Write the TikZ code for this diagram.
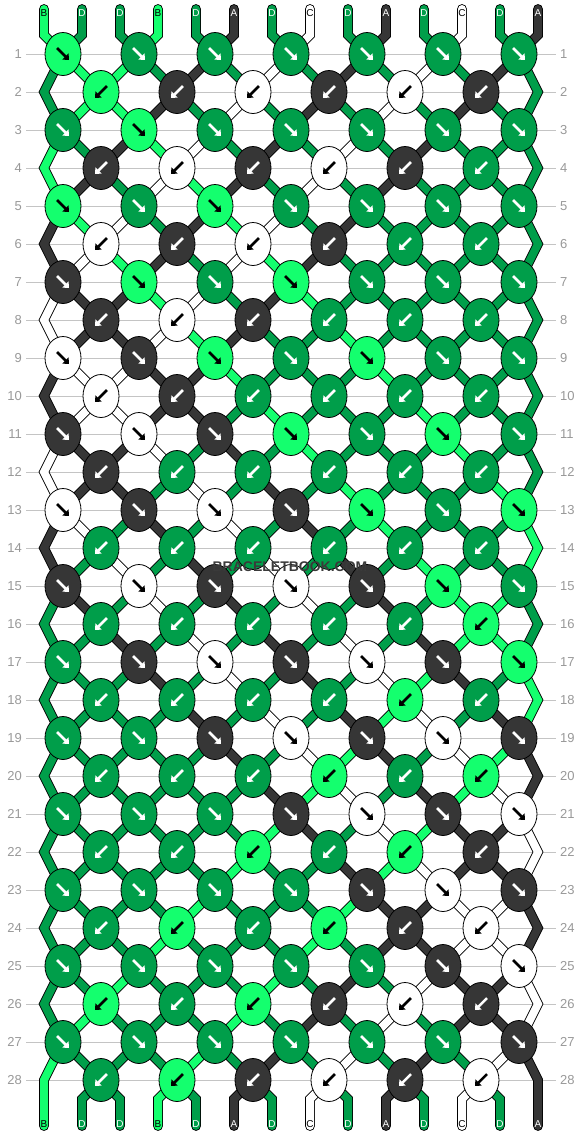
\documentclass[tikz,border=0pt]{standalone}
\usepackage{fontspec}
\setmainfont{Liberation Sans}
\usetikzlibrary{shapes.geometric,arrows.meta}
\definecolor{colA}{HTML}{363636}
\definecolor{colB}{HTML}{14FF6E}
\definecolor{colC}{HTML}{FFFFFF}
\definecolor{colD}{HTML}{009E4A}
\colorlet{txtA}{white}
\colorlet{txtB}{black}
\colorlet{txtC}{black}
\colorlet{txtD}{white}
\definecolor{gridgray}{HTML}{C4C4C4}
\definecolor{labelgray}{HTML}{999999}
\definecolor{wmgray}{HTML}{3A3A3A}
\pgfdeclarelayer{bg}
\pgfsetlayers{bg,main}
\newcommand{\strcol}[1]{\ifcase#1 B\or D\or D\or B\or D\or A\or D\or C\or D\or A\or D\or C\or D\or A\fi}

\begin{document}
\begin{tikzpicture}[x=1pt, y=-1pt,
    knotoval/.style = {draw, ellipse, line width=0.8pt, fill=col#1, minimum width=36pt, minimum height=43pt, inner sep=0pt},
    knotarrow/.style = {draw=txt#1, line width=2.5pt, -{Triangle[width=8.5pt,length=5pt]}},
    strand/.style = {line width=0.9pt, double=col#1, double distance=8pt, line cap=round},
    strlabel/.style = {text=txt#1, font=\fontsize{10}{10}\selectfont, inner sep=0pt},
    rowlabel/.style = {text=labelgray, font=\fontsize{13}{13}\selectfont, inner sep=0pt},
    gridline/.style = {gridgray, line width=1pt},
    wmark/.style = {text=#1, font=\fontsize{14}{14}\selectfont\bfseries, inner sep=0pt}]
  \useasboundingbox (0,0) rectangle (582,1136);
  \begin{pgfonlayer}{bg}
    \fill[white] (0,0) rectangle (582,1136);
    \foreach \r in {1,...,28} {
      \draw[gridline] (26,{54+38*(\r-1)}) -- (556,{54+38*(\r-1)});
    }
  \end{pgfonlayer}
  \foreach \r in {1,...,28} {
    \node[rowlabel, anchor=east] (ll\r) at (22,{54+38*(\r-1)}) {\r};
    \node[rowlabel, anchor=west] (rl\r) at (560,{54+38*(\r-1)}) {\r};
  }
  \foreach \r in {1,...,28} {
    \ifodd\r \def\hlist{1,5,...,25}\else \def\hlist{3,7,...,23}\fi
    \foreach \h in \hlist {
      \pgfmathtruncatemacro\qc{mod((\h-1)/2,2)==1 ? (\h-1)/2 : (\h+1)/2}
      \pgfmathtruncatemacro\ua{mod(\qc-\r+56,28)}
      \pgfmathtruncatemacro\uo{mod(\ua,2)==0 ? \ua : mod(83-\qc-\r,28)}
      \pgfmathtruncatemacro\q{min(\uo,27-\uo)}
      \edef\kc{\strcol{\q}}
      \node[knotoval=\kc] (k\r-\h) at ({44+19*\h},{54+38*(\r-1)}) {};
      \ifodd\r
        \draw[knotarrow=\kc, shift={(k\r-\h.center)}] (-6,-6) -- (6,6);
      \else
        \draw[knotarrow=\kc, shift={(k\r-\h.center)}] (6,-6) -- (-6,6);
      \fi
    }
  }
  \foreach \r in {2,4,...,28} {
    \coordinate (k\r-0) at (44,{54+38*(\r-1)});
    \coordinate (k\r-26) at (538,{54+38*(\r-1)});
  }
  \begin{pgfonlayer}{bg}
    \foreach \c [count=\s from 0] in {B,D,D,B,D,A,D,C,D,A,D,C,D,A} {
      \pgfmathtruncatemacro\uo{mod(\s,2)==0 ? \s : 27-\s}
      \coordinate (top-\s) at ({44+38*\s},9);
      \coordinate (bot-\s) at ({44+38*\s},1126);
      \draw[strand=\c] (top-\s) -- ([yshift=-26pt]top-\s)
        \foreach \r [evaluate={\r as \h using int(min(mod(\uo+\r-1,28),27-mod(\uo+\r-1,28))+min(mod(\uo+\r,28),27-mod(\uo+\r,28)))}] in {1,...,28} {-- (k\r-\h.center)}
        -- ([yshift=27pt]bot-\s) -- (bot-\s);
    }
  \end{pgfonlayer}
  \foreach \c [count=\s from 0] in {B,D,D,B,D,A,D,C,D,A,D,C,D,A} {
    \node[strlabel=\c] (lt-\s) at ({44+38*\s},13) {\c};
    \node[strlabel=\c] (lb-\s) at ({44+38*\s},1124) {\c};
  }
  \node[wmark=wmgray] (wm) at (290,567) {BRACELETBOOK.COM};
\end{tikzpicture}
\end{document}
